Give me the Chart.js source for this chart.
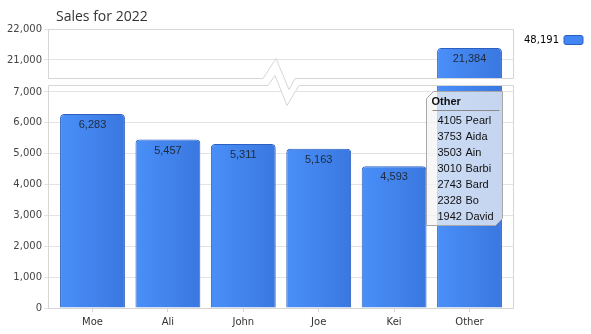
<!DOCTYPE html>
<html>
<head>
<meta charset="utf-8">
<script src="https://cdn.jsdelivr.net/npm/chart.js@4"></script>
<style>
  body { margin: 0; background: #fff; }
  #wrap { width: 591px; height: 334px; }
</style>
</head>
<body>
<div id="wrap"><canvas id="salesChart" width="591" height="334"></canvas></div>
<script>
// sales per person, "Other" is the sum of the small ones below
const names = ['Moe', 'Ali', 'John', 'Joe', 'Kei', 'Other'];
const sales = [6283, 5457, 5311, 5163, 4593, 21384];
const otherNames = ['Pearl', 'Aida', 'Ain', 'Barbi', 'Bard', 'Bo', 'David'];
const otherSales = [4105, 3753, 3503, 3010, 2743, 2328, 1942];

// broken axis: two panels
const lowTicks = [0, 1000, 2000, 3000, 4000, 5000, 6000, 7000];
const highTicks = [21000, 22000];
const lowRange = [0, 7324];
const highRange = [20290, 22000];

const fmt = v => v.toLocaleString('en-US');
const total = sales.reduce((a, b) => a + b, 0);
const tickFont = { family: '"DejaVu Sans", sans-serif', size: 10 };

function barFill(c) {
    const chart = c.chart;
    const xs = chart.scales.x;
    if (!xs || c.dataIndex === undefined || !chart.chartArea) return '#4285f4';
    const cx = xs.getPixelForValue(c.dataIndex);
    const g = chart.ctx.createLinearGradient(cx - 33, 0, cx + 33, 0);
    g.addColorStop(0, '#4a8ff8');
    g.addColorStop(1, '#3a77e0');
    return g;
}

const barStyle = {
    backgroundColor: barFill,
    borderColor: '#2d5fc0',
    borderWidth: 1,
    borderSkipped: 'bottom',
    borderRadius: { topLeft: 4, topRight: 4 },
    barPercentage: 0.86,
    categoryPercentage: 1,
    grouped: false
};

// frame of both panels + the zigzag break
const axisBreak = {
    id: 'axisBreak',
    afterDatasetsDraw(chart) {
        const ctx = chart.ctx;
        const lo = chart.scales.y, hi = chart.scales.yTop;
        const L = chart.chartArea.left + 0.5, R = chart.chartArea.right - 0.5;
        const T = hi.top + 0.5, B = lo.bottom + 0.5;
        const u = lo.top - 4 + 0.5, l = lo.top + 3 + 0.5;
        const m = Math.round((L + R) / 2);
        const up = [[m - 18, u], [m - 5, u - 20], [m + 8, u + 11], [m + 14, u]];
        const dn = [[m - 13, l], [m - 6, l - 10], [m + 6, l + 20], [m + 18, l]];

        ctx.save();
        ctx.fillStyle = '#fff';
        ctx.beginPath();
        ctx.moveTo(L - 1, u);
        up.forEach(p => ctx.lineTo(p[0], p[1]));
        ctx.lineTo(R + 1, u);
        ctx.lineTo(R + 1, l);
        dn.slice().reverse().forEach(p => ctx.lineTo(p[0], p[1]));
        ctx.lineTo(L - 1, l);
        ctx.closePath();
        ctx.fill();

        ctx.strokeStyle = '#d6d6d6';
        ctx.lineWidth = 1;
        ctx.beginPath();
        ctx.moveTo(L, u);
        ctx.lineTo(L, T);
        ctx.lineTo(R, T);
        ctx.lineTo(R, u);
        up.slice().reverse().forEach(p => ctx.lineTo(p[0], p[1]));
        ctx.lineTo(L, u);
        ctx.stroke();

        ctx.beginPath();
        ctx.moveTo(L, l);
        dn.forEach(p => ctx.lineTo(p[0], p[1]));
        ctx.lineTo(R, l);
        ctx.lineTo(R, B);
        ctx.lineTo(L, B);
        ctx.closePath();
        ctx.stroke();
        ctx.restore();
    }
};

const valueLabels = {
    id: 'valueLabels',
    afterDatasetsDraw(chart) {
        const ctx = chart.ctx;
        ctx.save();
        ctx.font = '11px "Liberation Sans", Arial, sans-serif';
        ctx.fillStyle = '#1e2a3a';
        ctx.textAlign = 'center';
        ctx.textBaseline = 'middle';
        chart.data.datasets.forEach((ds, di) => {
            const meta = chart.getDatasetMeta(di);
            const ys = chart.scales[meta.yAxisID];
            meta.data.forEach((el, i) => {
                const v = ds.data[i];
                if (v == null || el.y < ys.top) return;
                ctx.fillText(fmt(v), el.x, el.y + 11);
            });
        });
        ctx.restore();
    }
};

// static note listing what "Other" is made of, plus the title
const otherNote = {
    id: 'otherNote',
    afterDraw(chart) {
        const ctx = chart.ctx;
        const el = chart.getDatasetMeta(0).data[names.indexOf('Other')];
        const lo = chart.scales.y;
        const x0 = Math.round(el.x - el.width / 2) - 11 + 0.5;
        const y0 = Math.round(lo.top) + 9 + 0.5;
        const w = 76, h = 134, c = 7;

        ctx.save();
        ctx.beginPath();
        ctx.moveTo(x0, y0 + c);
        ctx.lineTo(x0 + c, y0);
        ctx.lineTo(x0 + w, y0);
        ctx.lineTo(x0 + w, y0 + h - c);
        ctx.lineTo(x0 + w - c, y0 + h);
        ctx.lineTo(x0, y0 + h);
        ctx.closePath();
        ctx.fillStyle = 'rgba(244,244,244,0.75)';
        ctx.fill();
        ctx.strokeStyle = '#a8a8a8';
        ctx.stroke();

        ctx.textBaseline = 'middle';
        ctx.fillStyle = '#111';
        ctx.font = 'bold 11px "Liberation Sans", Arial, sans-serif';
        ctx.fillText('Other', x0 + 5, y0 + 10);
        ctx.strokeStyle = '#8a8a8a';
        ctx.beginPath();
        ctx.moveTo(x0 + 6, y0 + 19);
        ctx.lineTo(x0 + w - 3, y0 + 19);
        ctx.stroke();

        ctx.font = '11px "Liberation Sans", Arial, sans-serif';
        otherNames.forEach((n, i) => {
            const y = y0 + 29 + i * 16;
            ctx.fillText(String(otherSales[i]), x0 + 11, y);
            ctx.fillText(n, x0 + 39, y);
        });

        ctx.font = '14px "Open Sans", sans-serif';
        ctx.fillStyle = '#333';
        ctx.fillText('Sales for 2022', chart.chartArea.left + 8, 17);
        ctx.restore();
    }
};

new Chart(document.getElementById('salesChart'), {
    type: 'bar',
    data: {
        labels: names,
        datasets: [
            Object.assign({ label: fmt(total), data: sales, yAxisID: 'y' }, barStyle),
            Object.assign({ label: 'top', data: sales.map(v => v > highRange[0] ? v : null), yAxisID: 'yTop' }, barStyle)
        ]
    },
    options: {
        responsive: false,
        animation: false,
        layout: { padding: { top: 29, left: 0, right: 2, bottom: 0 } },
        plugins: {
            title: { display: false },
            tooltip: { enabled: false },
            legend: {
                position: 'right',
                align: 'start',
                rtl: true,
                labels: {
                    boxWidth: 19,
                    boxHeight: 9,
                    padding: 6,
                    color: '#222',
                    font: { family: '"DejaVu Sans", sans-serif', size: 10 },
                    filter: item => item.datasetIndex === 0,
                    generateLabels: chart => chart.data.datasets.map((ds, i) => ({
                        text: ds.label,
                        datasetIndex: i,
                        fillStyle: '#4285f4',
                        strokeStyle: '#2d5fc0',
                        lineWidth: 1,
                        borderRadius: 2
                    }))
                }
            }
        },
        scales: {
            x: {
                grid: { display: true, offset: false, drawOnChartArea: false, tickLength: 4, color: '#d6d6d6' },
                border: { display: false },
                ticks: { color: '#333', font: tickFont, padding: 4 },
                afterBuildTicks: s => { s._startValue -= 0.09; s._valueRange += 0.18; },
                afterFit: s => { s.height = 26; }
            },
            y: {
                type: 'linear',
                position: 'left',
                stack: 'sales',
                stackWeight: 226,
                min: lowRange[0],
                max: lowRange[1],
                grid: { color: '#e3e3e3', tickLength: 4 },
                border: { display: false },
                ticks: { color: '#444', font: tickFont, padding: 2, callback: v => fmt(v) },
                afterBuildTicks: s => { s.ticks = lowTicks.map(v => ({ value: v })); },
                afterFit: s => { s.width = 48; }
            },
            yTop: {
                type: 'linear',
                position: 'left',
                stack: 'sales',
                stackWeight: 53,
                min: highRange[0],
                max: highRange[1],
                grid: { color: '#e3e3e3', tickLength: 4 },
                border: { display: false },
                ticks: { color: '#444', font: tickFont, padding: 2, callback: v => fmt(v) },
                afterBuildTicks: s => { s.ticks = highTicks.map(v => ({ value: v })); },
                afterFit: s => { s.width = 48; }
            }
        }
    },
    plugins: [axisBreak, valueLabels, otherNote]
});
</script>
</body>
</html>
